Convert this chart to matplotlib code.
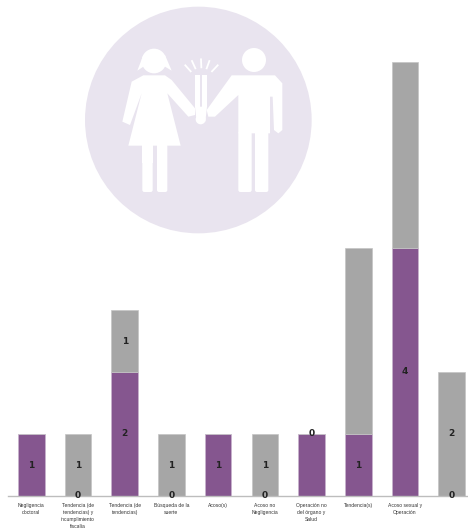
import matplotlib
matplotlib.use('Agg')
import matplotlib.pyplot as plt
from matplotlib.patches import Circle, Polygon, Rectangle, FancyBboxPatch

# Chart data (category text is barely legible in the source, best reading)
categories = [
    'Negligencia\ndoctoral',
    'Tendencia (de\ntendencias) y\nincumplimiento\nfiscalía',
    'Tendencia (de\ntendencias)',
    'Búsqueda de la\nsuerte',
    'Acoso(s)',
    'Acoso no\nNegligencia',
    'Operación no\ndel órgano y\nSalud',
    'Tendencia(s)',
    'Acoso sexual y\nOperación',
    '',
]
purple_values = [1, 0, 2, 0, 1, 0, 1, 1, 4, 0]
gray_values = [0, 1, 1, 1, 0, 1, 0, 3, 3, 2]
purple_labels = ['1', '0', '2', '0', '1', '0', '', '1', '4', '0']
gray_labels = ['', '1', '1', '1', '', '1', '0', '', '', '2']

PURPLE = '#85568F'
GRAY = '#A6A6A6'
ICON_BG = '#E9E4EF'
W, H = 468, 529


def draw_icon(fig):
  # Decorative pictogram, drawn in its own 720x720 box
  ax = fig.add_axes([80 / W, 1 - 240 / H, 240 / W, 240 / H])
  ax.set_xlim(0, 720)
  ax.set_ylim(720, 0)
  ax.axis('off')
  ax.add_patch(Circle((355, 360), 340, color=ICON_BG, lw=0))

  shapes = [
    # woman: hair, dress, arms
    [(172, 212), (190, 165), (255, 165), (275, 212), (255, 200), (190, 200)],
    [(190, 226), (255, 226), (275, 240), (345, 325), (345, 345), (325, 350),
     (262, 280), (302, 437), (145, 437), (185, 280), (150, 375), (127, 365),
     (155, 245)],
    # man: torso and arms
    [(455, 226), (585, 226), (607, 250), (607, 390), (595, 400), (582, 390),
     (578, 290), (570, 290), (570, 400), (475, 400), (475, 285), (405, 350),
     (385, 350), (380, 330)],
    # bulb
    [(346, 225), (360, 225), (360, 320), (346, 320)],
    [(366, 225), (381, 225), (381, 320), (366, 320)],
    [(345, 320), (381, 320), (376, 365), (350, 365)],
  ]
  for pts in shapes:
    ax.add_patch(Polygon(pts, closed=True, color='white', lw=0))

  ax.add_patch(Circle((222, 183), 37, color='white', lw=0))
  ax.add_patch(Circle((522, 180), 36, color='white', lw=0))
  ax.add_patch(Circle((362, 358), 15, color='white', lw=0))

  # legs
  for x, w in [(187, 31), (231, 31), (475, 40), (525, 40)]:
    ax.add_patch(FancyBboxPatch((x + 6, 400), w - 12, 170,
                                boxstyle='round,pad=6', color='white', lw=0))
  ax.add_patch(Rectangle((187, 430), 31, 60, color='white', lw=0))
  ax.add_patch(Rectangle((231, 430), 31, 60, color='white', lw=0))

  # rays above the bulb
  for x0, y0, x1, y1 in [(316, 196, 332, 214), (336, 183, 346, 205),
                         (363, 178, 364, 202), (388, 183, 380, 205),
                         (413, 196, 396, 214)]:
    ax.plot([x0, x1], [y0, y1], color='white', lw=1.3)


def main():
  fig = plt.figure(figsize=(W / 100, H / 100), dpi=100)
  draw_icon(fig)

  # Bar axes runs slightly past the right edge, like the source
  ax = fig.add_axes([8 / W, 1 - 496 / H, 467 / W, 496 / H])
  ax.patch.set_alpha(0)
  x = range(len(categories))
  bars_purple = ax.bar(x, purple_values, width=0.57, color=PURPLE,
                       edgecolor='#C9B3CE', linewidth=0.5)
  bars_gray = ax.bar(x, gray_values, width=0.57, bottom=purple_values,
                     color=GRAY, edgecolor='#C4C4C4', linewidth=0.5)
  ax.bar_label(bars_purple, labels=purple_labels, label_type='center',
               fontsize=6.5, color='#222222', fontweight='bold', clip_on=False)
  ax.bar_label(bars_gray, labels=gray_labels, label_type='center',
               fontsize=6.5, color='#222222', fontweight='bold', clip_on=False)

  ax.set_xlim(-0.5, 9.5)
  ax.set_ylim(0, 496 / 62)
  ax.set_xticks(list(x))
  ax.set_xticklabels(categories, fontsize=3.6, color='#333333', linespacing=1.5,
                     family='Liberation Sans')
  ax.tick_params(axis='x', length=0, pad=5.2)
  ax.set_yticks([])
  for side in ['top', 'right', 'left']:
    ax.spines[side].set_visible(False)
  ax.spines['bottom'].set_color('#BDBDBD')
  ax.spines['bottom'].set_linewidth(1.0)

  fig.savefig('out.png', dpi=100)


if __name__ == '__main__':
  main()
